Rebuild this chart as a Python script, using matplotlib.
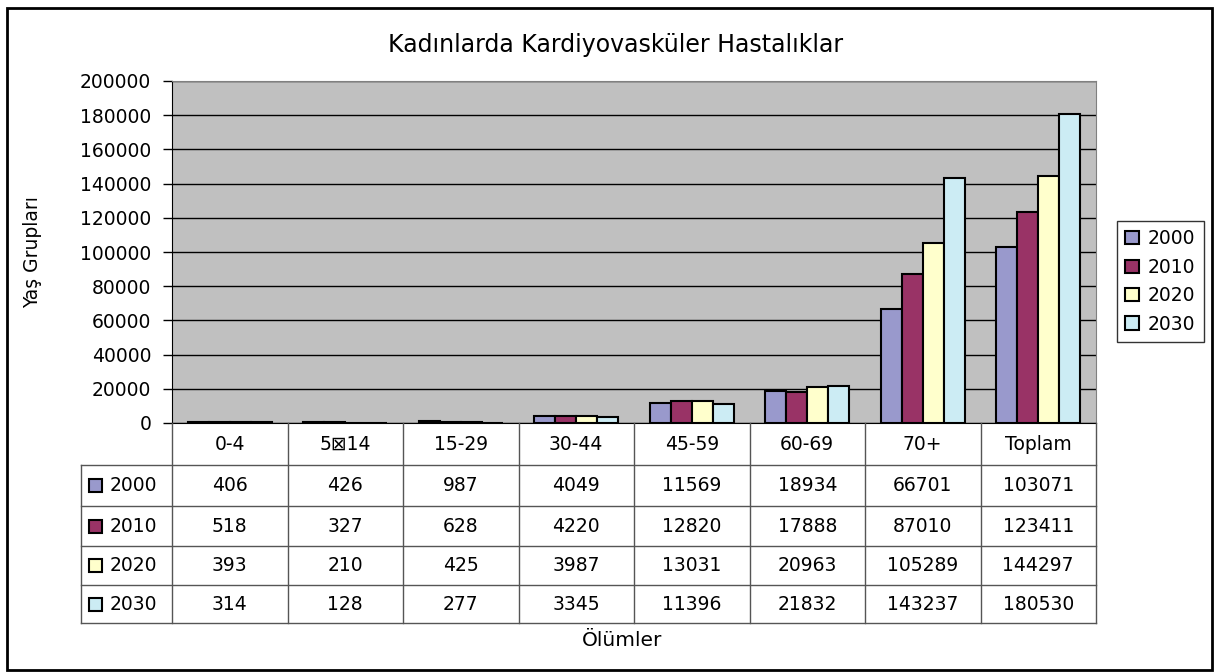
import matplotlib
matplotlib.use("Agg")
import matplotlib.pyplot as plt
from matplotlib.patches import Rectangle
from matplotlib.lines import Line2D

categories = ["0-4", "5\u22a014", "15-29", "30-44", "45-59", "60-69", "70+", "Toplam"]
years = ["2000", "2010", "2020", "2030"]
v2000 = [406, 426, 987, 4049, 11569, 18934, 66701, 103071]
v2010 = [518, 327, 628, 4220, 12820, 17888, 87010, 123411]
v2020 = [393, 210, 425, 3987, 13031, 20963, 105289, 144297]
v2030 = [314, 128, 277, 3345, 11396, 21832, 143237, 180530]
series = [v2000, v2010, v2020, v2030]
colors = ["#9999CC", "#993366", "#FFFFCC", "#CCECF4"]
yticks = list(range(0, 200001, 20000))

title = "Kadınlarda Kardiyovasküler Hastalıklar"
ylabel = "Yaş Grupları"
xlabel = "Ölümler"

plt.rcParams['font.family'] = ['DejaVu Sans']
FS = 13.5

W, H = 1219, 672
fig = plt.figure(figsize=(W / 100, H / 100), dpi=100)


def fx(px):
    return px / W


def fy(py):
    return 1 - py / H


# outer border
fig.add_artist(Rectangle((fx(7), fy(670)), fx(1212) - fx(7), fy(8) - fy(670),
                         transform=fig.transFigure, fill=False, lw=2, ec='black'))

L, R, T, B = 172, 1096, 81, 423
ax = fig.add_axes([fx(L), fy(B), fx(R) - fx(L), fy(T) - fy(B)])
ax.set_facecolor('#C0C0C0')
ax.set_xlim(-0.5, len(categories) - 0.5)
ax.set_ylim(0, 200000)
ax.set_yticks(yticks)
ax.set_yticklabels([str(t) for t in yticks], fontsize=FS)
ax.tick_params(axis='y', length=6.5, width=1, pad=8.5, color='black')
ax.set_xticks([])
ax.yaxis.grid(True, color='black', lw=1)
ax.set_axisbelow(True)
for s in ['top', 'right']:
    ax.spines[s].set_color('#808080')
for s in ['left', 'bottom']:
    ax.spines[s].set_color('black')

bw = 0.182
handles = []
for i, (vals, c) in enumerate(zip(series, colors)):
    xs = [k + (i - 1.5) * bw for k in range(len(categories))]
    h = ax.bar(xs, vals, width=bw, color=c, edgecolor='black', lw=1.5, zorder=3)
    handles.append(h)

fig.text(fx(33), fy(252), ylabel, rotation=90, ha='center', va='center', fontsize=FS)
fig.text(fx(616), fy(45), title, ha='center', va='center', fontsize=17)
fig.text(fx(622), fy(640), xlabel, ha='center', va='center', fontsize=14.5)

# data table
TL = 81
colw = (R - L) / len(categories)
xmin = -0.5 - (L - TL) / colw
xmax = len(categories) - 0.5
tax = fig.add_axes([fx(TL), fy(623), fx(R) - fx(TL), fy(B) - fy(623)])
tax.set_xlim(xmin, xmax)
tax.set_ylim(200, 0)
tax.axis('off')
rows = [0, 42, 83, 123, 162, 200]
lc = '#555555'
for k in range(len(categories) + 1):
    tax.add_line(Line2D([k - 0.5, k - 0.5], [0, 200], color=lc, lw=1, clip_on=False))
tax.add_line(Line2D([xmin, xmin], [rows[1], 200], color=lc, lw=1, clip_on=False))
for r in rows[1:]:
    tax.add_line(Line2D([xmin, xmax], [r, r], color=lc, lw=1, clip_on=False))
for k, cat in enumerate(categories):
    tax.text(k, (rows[0] + rows[1]) / 2, cat, ha='center', va='center', fontsize=FS)
sq = 13
for i, (yr, vals, c) in enumerate(zip(years, series, colors)):
    yc = (rows[i + 1] + rows[i + 2]) / 2
    tax.add_patch(Rectangle((xmin + 8 / colw, yc - sq / 2), sq / colw, sq,
                            fc=c, ec='black', lw=1.5, clip_on=False))
    tax.text(xmin + 29 / colw, yc, yr, ha='left', va='center', fontsize=FS)
    for k, v in enumerate(vals):
        tax.text(k, yc, str(v), ha='center', va='center', fontsize=FS)

leg = fig.legend(handles, years, loc='upper left', bbox_to_anchor=(fx(1117), fy(221)),
                 fontsize=FS, frameon=True, fancybox=False, edgecolor='black',
                 handlelength=0.7, handleheight=0.7, handletextpad=0.5,
                 labelspacing=0.5, borderpad=0.45, borderaxespad=0)
leg.get_frame().set_linewidth(1)
leg.get_frame().set_facecolor('white')

fig.savefig('out.png', dpi=100)
